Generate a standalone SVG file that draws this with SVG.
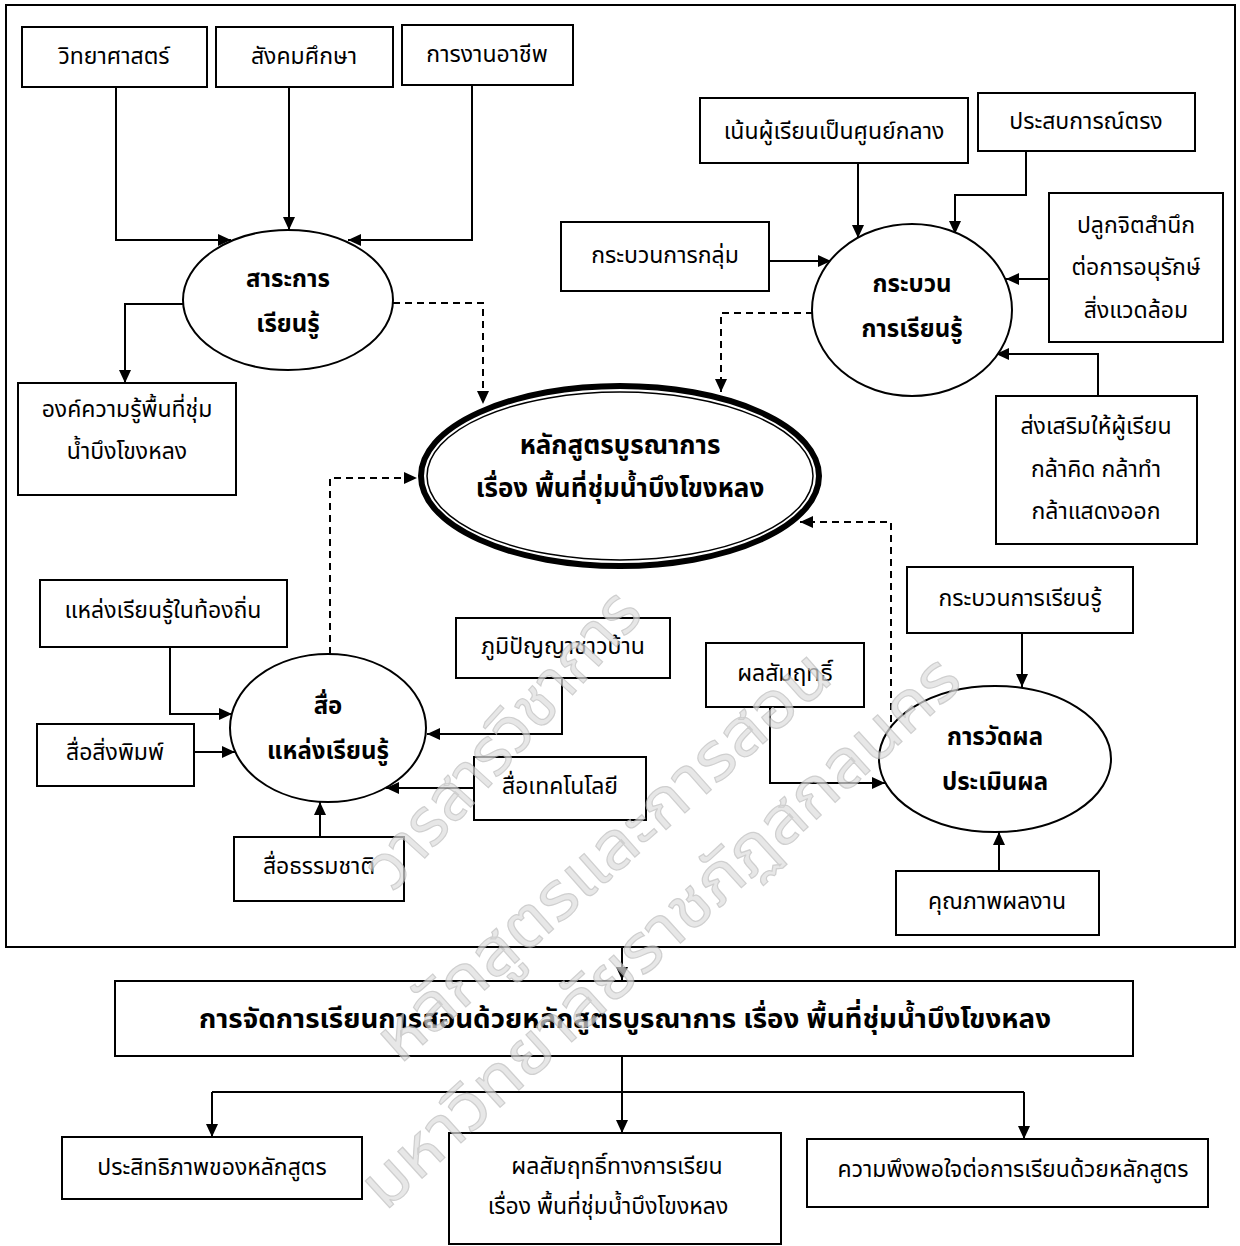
<svg xmlns="http://www.w3.org/2000/svg" width="1240" height="1246" viewBox="0 0 1240 1246">
<defs>
<marker id="ah" markerUnits="userSpaceOnUse" markerWidth="14" markerHeight="12" refX="13" refY="6" orient="auto">
<path d="M0,0 L13,6 L0,12 z" fill="#000"/>
</marker>
<style>
.bx{fill:#fff;stroke:#000;stroke-width:2}
.el{fill:#fff;stroke:#000;stroke-width:2}
.t{font-family:'Noto Sans Thai','Tahoma','DejaVu Sans',sans-serif;font-size:23px;fill:#000;text-anchor:middle;dominant-baseline:central}
.b{font-family:'Noto Sans Thai','Tahoma','DejaVu Sans',sans-serif;font-size:24px;font-weight:bold;fill:#000;text-anchor:middle;dominant-baseline:central}
.c{fill:none;stroke:#000;stroke-width:2;marker-end:url(#ah)}
.d{fill:none;stroke:#000;stroke-width:2;stroke-dasharray:7,5;marker-end:url(#ah)}
.w{font-family:'Noto Sans Thai','Tahoma','DejaVu Sans',sans-serif;font-size:66px;fill:#dedede;stroke:#bcbcbc;stroke-width:1.2}
</style>
</defs>
<rect width="1240" height="1246" fill="#fff"/>

<rect x="6" y="5" width="1229" height="942" fill="none" stroke="#000" stroke-width="2"/>

<g id="connectors">
<path class="c" d="M116,87 V240 H231"/>
<path class="c" d="M289,87 V230"/>
<path class="c" d="M472,85 V240 H348"/>
<path class="c" d="M183,304 H125 V383"/>
<path class="d" d="M393,303 H483 V404"/>
<path class="c" d="M858,163 V238"/>
<path class="c" d="M1026,151 V195 H955 V234"/>
<path class="c" d="M769,261 H831"/>
<path class="c" d="M1049,279 H1006"/>
<path class="c" d="M1098,396 V354 H996"/>
<path class="d" d="M813,313 H721 V392"/>
<path class="c" d="M170,647 V714 H232"/>
<path class="c" d="M194,752 H235"/>
<path class="c" d="M562,678 V734 H427"/>
<path class="c" d="M474,788 H386"/>
<path class="c" d="M320,837 V802"/>
<path class="d" d="M330,654 V478 H417"/>
<path class="c" d="M1022,633 V687"/>
<path class="c" d="M770,707 V783 H885"/>
<path class="c" d="M999,871 V832"/>
<path class="d" d="M891,722 V522 H800"/>
<path class="c" d="M622,947 V980"/>
<path fill="none" stroke="#000" stroke-width="2" d="M622,1056 V1092 M212,1092 H1024"/>
<path class="c" d="M212,1092 V1137"/>
<path class="c" d="M622,1092 V1133"/>
<path class="c" d="M1024,1092 V1139"/>
</g>

<g id="n-sci"><rect class="bx" x="22" y="27" width="185" height="60"/><text class="t" x="114" y="57">วิทยาศาสตร์</text></g>
<g id="n-soc"><rect class="bx" x="216" y="27" width="177" height="60"/><text class="t" x="304" y="57">สังคมศึกษา</text></g>
<g id="n-occ"><rect class="bx" x="402" y="25" width="171" height="60"/><text class="t" x="487" y="55">การงานอาชีพ</text></g>
<g id="n-content"><ellipse class="el" cx="288" cy="300" rx="105" ry="70"/><text class="b" x="288" y="280">สาระการ</text><text class="b" x="288" y="325">เรียนรู้</text></g>
<g id="n-knowledge"><rect class="bx" x="18" y="383" width="218" height="112"/><text class="t" x="127" y="410">องค์ความรู้พื้นที่ชุ่ม</text><text class="t" x="127" y="452">น้ำบึงโขงหลง</text></g>

<g id="n-main">
<ellipse cx="620" cy="476" rx="199" ry="90" fill="#fff" stroke="#000" stroke-width="6"/>
<ellipse cx="620" cy="476" rx="193" ry="84" fill="none" stroke="#000" stroke-width="1.5"/>
<text class="b" x="620" y="446" style="font-size:26px">หลักสูตรบูรณาการ</text>
<text class="b" x="620" y="489" style="font-size:26px">เรื่อง พื้นที่ชุ่มน้ำบึงโขงหลง</text>
</g>

<g id="n-center"><rect class="bx" x="700" y="98" width="268" height="65"/><text class="t" x="834" y="132">เน้นผู้เรียนเป็นศูนย์กลาง</text></g>
<g id="n-direct"><rect class="bx" x="978" y="93" width="217" height="58"/><text class="t" x="1086" y="122">ประสบการณ์ตรง</text></g>
<g id="n-conscious"><rect class="bx" x="1049" y="193" width="174" height="149"/><text class="t" x="1136" y="226">ปลูกจิตสำนึก</text><text class="t" x="1136" y="268">ต่อการอนุรักษ์</text><text class="t" x="1136" y="311">สิ่งแวดล้อม</text></g>
<g id="n-group"><rect class="bx" x="561" y="222" width="208" height="69"/><text class="t" x="665" y="256">กระบวนการกลุ่ม</text></g>
<g id="n-process"><ellipse class="el" cx="912" cy="310" rx="100" ry="86"/><text class="b" x="912" y="285">กระบวน</text><text class="b" x="912" y="330">การเรียนรู้</text></g>
<g id="n-promote"><rect class="bx" x="996" y="396" width="201" height="148"/><text class="t" x="1096" y="427">ส่งเสริมให้ผู้เรียน</text><text class="t" x="1096" y="470">กล้าคิด กล้าทำ</text><text class="t" x="1096" y="512">กล้าแสดงออก</text></g>

<g id="n-local"><rect class="bx" x="40" y="580" width="247" height="67"/><text class="t" x="163" y="611">แหล่งเรียนรู้ในท้องถิ่น</text></g>
<g id="n-print"><rect class="bx" x="37" y="724" width="157" height="62"/><text class="t" x="115" y="753">สื่อสิ่งพิมพ์</text></g>
<g id="n-media"><ellipse class="el" cx="328" cy="728" rx="98" ry="74"/><text class="b" x="328" y="707">สื่อ</text><text class="b" x="328" y="752">แหล่งเรียนรู้</text></g>
<g id="n-wisdom"><rect class="bx" x="456" y="618" width="214" height="60"/><text class="t" x="563" y="647">ภูมิปัญญาชาวบ้าน</text></g>
<g id="n-tech"><rect class="bx" x="474" y="757" width="172" height="63"/><text class="t" x="560" y="787">สื่อเทคโนโลยี</text></g>
<g id="n-nature"><rect class="bx" x="234" y="837" width="170" height="64"/><text class="t" x="319" y="867">สื่อธรรมชาติ</text></g>

<g id="n-lproc"><rect class="bx" x="907" y="567" width="226" height="66"/><text class="t" x="1020" y="599">กระบวนการเรียนรู้</text></g>
<g id="n-achieve"><rect class="bx" x="706" y="643" width="158" height="64"/><text class="t" x="785" y="674">ผลสัมฤทธิ์</text></g>
<g id="n-eval"><ellipse class="el" cx="995" cy="759" rx="116" ry="73"/><text class="b" x="995" y="738">การวัดผล</text><text class="b" x="995" y="783">ประเมินผล</text></g>
<g id="n-quality"><rect class="bx" x="896" y="871" width="203" height="64"/><text class="t" x="997" y="902">คุณภาพผลงาน</text></g>

<g id="n-teach"><rect class="bx" x="115" y="981" width="1018" height="75"/><text class="b" x="625" y="1019" style="font-size:27px" textLength="852" lengthAdjust="spacingAndGlyphs">การจัดการเรียนการสอนด้วยหลักสูตรบูรณาการ เรื่อง พื้นที่ชุ่มน้ำบึงโขงหลง</text></g>
<g id="n-eff"><rect class="bx" x="62" y="1137" width="300" height="62"/><text class="t" x="212" y="1168">ประสิทธิภาพของหลักสูตร</text></g>
<g id="n-ach2"><rect class="bx" x="449" y="1133" width="332" height="111"/><text class="t" x="617" y="1167">ผลสัมฤทธิ์ทางการเรียน</text><text class="t" x="608" y="1207">เรื่อง พื้นที่ชุ่มน้ำบึงโขงหลง</text></g>
<g id="n-sat"><rect class="bx" x="807" y="1139" width="401" height="68"/><text class="t" x="1013" y="1170">ความพึงพอใจต่อการเรียนด้วยหลักสูตร</text></g>

<g id="watermark" opacity="0.7">
<text class="w" x="393" y="893" transform="rotate(-47.8 393 893)" textLength="375" lengthAdjust="spacingAndGlyphs">วารสารวิชาการ</text>
<text class="w" x="400" y="1065" transform="rotate(-41.5 400 1065)" textLength="581" lengthAdjust="spacingAndGlyphs">หลักสูตรและการสอน</text>
<text class="w" x="385" y="1212" transform="rotate(-42.3 385 1212)" textLength="784" lengthAdjust="spacingAndGlyphs">มหาวิทยาลัยราชภัฏสกลนคร</text>
</g>
</svg>
